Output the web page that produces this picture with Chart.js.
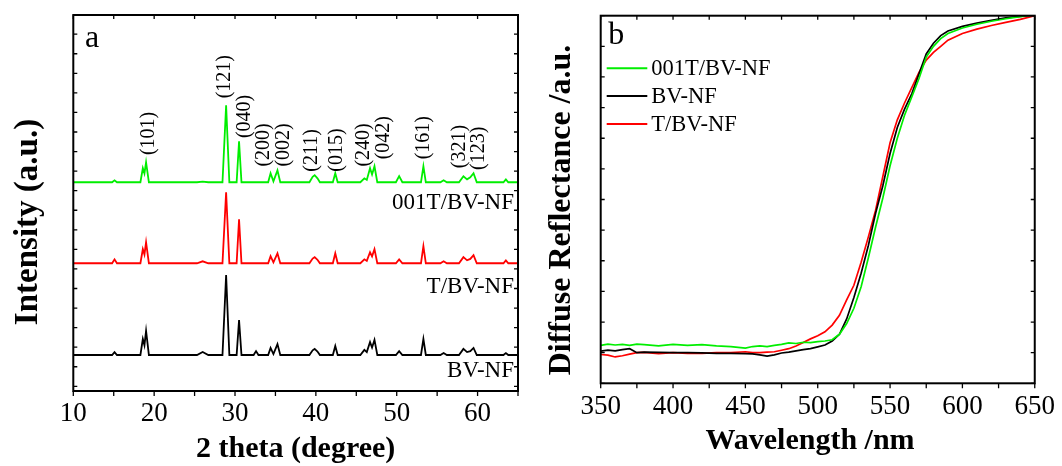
<!DOCTYPE html>
<html>
<head>
<meta charset="utf-8">
<script src="https://cdn.jsdelivr.net/npm/chart.js@4.4.1/dist/chart.umd.min.js"></script>
<style>
  html, body { margin: 0; padding: 0; background: #fff; }
  #wrap { position: relative; width: 1062px; height: 466px; }
  canvas { position: absolute; top: 0; }
  #xrd { left: 0; }
  #drs { left: 531px; }
</style>
</head>
<body>
<div id="wrap">
  <canvas id="xrd" width="531" height="466"></canvas>
  <canvas id="drs" width="531" height="466"></canvas>
</div>
<script>
// ---- panel (a): XRD patterns, intensity above each trace's own baseline ----
const twoTheta = [10, 14.8, 15.1, 15.4, 18.3, 18.6, 18.8, 19.0, 19.35, 25.3, 26.0, 26.7,
  28.45, 28.9, 29.3, 30.2, 30.5, 30.8, 32.3, 32.6, 32.9, 34.1, 34.4, 34.75, 35.25, 35.6,
  39.2, 39.6, 39.85, 40.2, 40.5, 42.1, 42.4, 42.7, 45.5, 46.0, 46.3, 46.7, 46.95, 47.25, 47.6,
  49.9, 50.3, 50.7, 53.0, 53.3, 53.6, 55.4, 55.8, 56.2, 57.7, 58.25, 58.7, 59.1, 59.5, 59.9,
  63.2, 63.5, 63.8, 65];
const xrd001T = [0, 0, 10, 0, 0, 72, 45, 102, 0, 0, 3, 0, 0, 394, 0, 0, 210, 0, 0, 0, 0,
  0, 46, 5, 61, 0, 0, 28, 36, 20, 0, 0, 46, 0, 0, 20, 12, 72, 40, 82, 0, 0, 31, 0, 0, 82, 0,
  0, 10, 0, 0, 31, 15, 25, 46, 0, 0, 15, 0, 0];
const xrdTBV = [0, 0, 20, 0, 0, 72, 45, 107, 0, 0, 10, 0, 0, 363, 0, 0, 225, 0, 0, 0, 0,
  0, 36, 5, 51, 0, 0, 24, 31, 18, 0, 0, 51, 0, 0, 20, 12, 56, 35, 72, 0, 0, 20, 0, 0, 87, 0,
  0, 10, 0, 0, 31, 15, 22, 41, 0, 0, 15, 0, 0];
const xrdBV = [0, 0, 15, 0, 0, 82, 50, 123, 0, 0, 15, 0, 0, 409, 0, 0, 179, 0, 0, 20, 0,
  0, 36, 5, 56, 0, 0, 24, 31, 18, 0, 0, 46, 0, 0, 26, 15, 66, 38, 77, 0, 0, 20, 0, 0, 82, 0,
  0, 10, 0, 0, 31, 15, 20, 36, 0, 0, 10, 0, 0];
const xrdNames = ['001T/BV-NF', 'T/BV-NF', 'BV-NF'];
const xrdOffsets = [1043, 629, 160];
const xrdLabelY = [905, 475, 49];
const hklLabels = ['(101)', '(121)', '(040)', '(200)', '(002)', '(211)', '(015)', '(240)',
  '(042)', '(161)', '(321)', '(123)'];
const hkl2Theta = [19.28, 28.76, 31.24, 33.59, 35.97, 39.49, 42.58, 45.96, 48.34, 53.38, 57.83, 60.09];
const hklY = [1182, 1472, 1269, 1123, 1123, 1097, 1097, 1123, 1160, 1160, 1115, 1106];

// ---- panel (b): diffuse reflectance ----
const wavelength = [350, 355, 360, 365, 370, 375, 380, 390, 400, 410, 420, 430, 440, 450,
  455, 460, 465, 470, 475, 480, 485, 490, 495, 500, 505, 510, 515, 520, 525, 530, 535, 540,
  545, 550, 555, 560, 565, 570, 575, 580, 585, 590, 600, 610, 620, 630, 640, 650];
const drs001T = [1.24, 1.28, 1.25, 1.27, 1.24, 1.28, 1.26, 1.22, 1.27, 1.24, 1.26, 1.22, 1.2,
  1.15, 1.2, 1.22, 1.2, 1.24, 1.27, 1.32, 1.3, 1.34, 1.33, 1.36, 1.38, 1.42, 1.6, 1.95, 2.45,
  3.15, 4.1, 5.1, 6.05, 7.1, 8.0, 8.75, 9.35, 9.95, 10.65, 11.0, 11.25, 11.42, 11.6, 11.72,
  11.82, 11.9, 11.97, 12.03];
const drsBV = [1.05, 1.08, 1.06, 1.1, 1.13, 1.0, 1.02, 1.01, 1.0, 1.0, 0.99, 0.98, 0.98, 0.97,
  0.96, 0.93, 0.89, 0.93, 0.99, 1.02, 1.06, 1.1, 1.13, 1.19, 1.25, 1.38, 1.6, 2.1, 2.8, 3.59,
  4.5, 5.55, 6.45, 7.5, 8.35, 8.95, 9.45, 10.1, 10.75, 11.1, 11.35, 11.5, 11.65, 11.76, 11.85,
  11.93, 11.98, 12.03];
const drsTBV = [0.94, 0.92, 0.86, 0.9, 0.95, 1.0, 1.01, 0.97, 1.0, 0.98, 0.98, 1.0, 1.0, 1.03,
  1.0, 1.0, 1.02, 1.03, 1.08, 1.13, 1.22, 1.33, 1.45, 1.55, 1.68, 1.9, 2.22, 2.72, 3.2, 3.95,
  4.78, 5.65, 6.75, 7.85, 8.6, 9.15, 9.65, 10.15, 10.55, 10.8, 11.0, 11.2, 11.42, 11.56, 11.68,
  11.78, 11.88, 12.0];
const drsNames = ['001T/BV-NF', 'BV-NF', 'T/BV-NF'];

const serif = "'Liberation Serif', 'Times New Roman', Times, serif";
const GREEN = '#00ee00', RED = '#ff0000', BLACK = '#000000';

// box round the plot area + inward / outward tick marks
const frame = {
  id: 'frame',
  afterDatasetsDraw(chart, args, o) {
    const { ctx, chartArea: a } = chart;
    const x = chart.scales.x, y = chart.scales.y;
    ctx.save();
    ctx.strokeStyle = '#000';
    ctx.lineWidth = 1.3;
    ctx.beginPath();
    for (let v = x.min; v <= x.max + 1e-6; v += o.xStep) {
      const px = x.getPixelForValue(v);
      ctx.moveTo(px, a.bottom); ctx.lineTo(px, a.bottom + o.out);
      ctx.moveTo(px, a.top); ctx.lineTo(px, a.top + o.in);
    }
    for (let v = o.yStart; v <= y.max + 1e-6; v += o.yStep) {
      const py = y.getPixelForValue(v);
      ctx.moveTo(a.left, py); ctx.lineTo(a.left + o.in, py);
      ctx.moveTo(a.right, py); ctx.lineTo(a.right - o.in, py);
    }
    ctx.stroke();
    ctx.lineWidth = 2;
    ctx.strokeRect(a.left, a.top, a.right - a.left, a.bottom - a.top);
    ctx.restore();
  }
};

// free text (data coords, or canvas pixels when pixel:true), plus a line legend
const notes = {
  id: 'notes',
  afterDraw(chart, args, o) {
    const { ctx, chartArea: a } = chart;
    const x = chart.scales.x, y = chart.scales.y;
    ctx.save();
    ctx.fillStyle = '#000';
    (o.items || []).forEach(t => {
      ctx.save();
      ctx.font = t.font;
      ctx.textAlign = t.align || 'left';
      ctx.textBaseline = t.baseline || 'alphabetic';
      if (t.pixel) ctx.translate(t.x, t.y);
      else ctx.translate(x.getPixelForValue(t.x), y.getPixelForValue(t.y));
      if (t.rotate) ctx.rotate(-Math.PI / 2);
      ctx.fillText(t.text, 0, 0);
      ctx.restore();
    });
    if (o.legend) {
      const L = o.legend;
      ctx.font = L.font;
      ctx.textBaseline = 'middle';
      chart.data.datasets.forEach((ds, i) => {
        const yy = a.top + L.top + i * L.gap;
        ctx.strokeStyle = ds.borderColor;
        ctx.lineWidth = 2;
        ctx.beginPath();
        ctx.moveTo(a.left + L.left, yy);
        ctx.lineTo(a.left + L.left + L.len, yy);
        ctx.stroke();
        ctx.fillStyle = '#000';
        ctx.fillText(ds.label, a.left + L.left + L.len + 4, yy + 1);
      });
    }
    ctx.restore();
  }
};

// ---------- chart (a) ----------
const xrdSeries = [xrd001T, xrdTBV, xrdBV];
const xrdColors = [GREEN, RED, BLACK];

const xrdNotes = [
  { text: 'a', x: 11.45, y: 1736, font: '32px ' + serif },
  { text: 'Intensity (a.u.)', x: 28, y: 222, pixel: true, rotate: true, align: 'center',
    baseline: 'middle', font: 'bold 33px ' + serif }
];
hklLabels.forEach((lab, i) => {
  xrdNotes.push({ text: lab, x: hkl2Theta[i], y: hklY[i], rotate: true, baseline: 'middle',
    font: '20px ' + serif });
});
xrdNames.forEach((name, i) => {
  xrdNotes.push({ text: name, x: 64.5, y: xrdLabelY[i], align: 'right', font: '23px ' + serif });
});

new Chart(document.getElementById('xrd'), {
  type: 'line',
  data: {
    datasets: xrdNames.map((name, i) => ({
      label: name,
      data: twoTheta.map((t, k) => ({ x: t, y: xrdSeries[i][k] + xrdOffsets[i] })),
      borderColor: xrdColors[i],
      borderWidth: 1.8,
      pointRadius: 0,
      tension: 0
    }))
  },
  options: {
    responsive: false,
    animation: false,
    layout: { padding: { left: 0, right: 13, top: 15, bottom: 0 } },
    plugins: {
      legend: { display: false },
      tooltip: { enabled: false },
      frame: { xStep: 5, yStart: 0, yStep: 100, in: 4, out: 5 },
      notes: { items: xrdNotes }
    },
    scales: {
      x: {
        type: 'linear', min: 10, max: 65,
        afterFit: s => { s.height = 75; },
        grid: { display: false, drawTicks: false },
        border: { display: false },
        ticks: { stepSize: 10, includeBounds: false, padding: 7, color: '#000', maxRotation: 0,
          font: { family: serif, size: 27 } },
        title: { display: true, text: '2 theta (degree)', color: '#000',
          padding: { top: 0, bottom: -1 }, font: { family: serif, size: 30, weight: 'bold' } }
      },
      y: {
        min: -24, max: 1898,
        afterFit: s => { s.width = 73.3; },
        grid: { display: false, drawTicks: false },
        border: { display: false },
        ticks: { display: false }
      }
    }
  },
  plugins: [frame, notes]
});

// ---------- chart (b) ----------
const drsSeries = [drs001T, drsBV, drsTBV];
const drsColors = [GREEN, BLACK, RED];

new Chart(document.getElementById('drs'), {
  type: 'line',
  data: {
    datasets: drsNames.map((name, i) => ({
      label: name,
      data: wavelength.map((w, k) => ({ x: w, y: drsSeries[i][k] })),
      borderColor: drsColors[i],
      borderWidth: 1.7,
      pointRadius: 0,
      tension: 0
    }))
  },
  options: {
    responsive: false,
    animation: false,
    layout: { padding: { left: 0, right: 24, top: 15.7, bottom: 0 } },
    plugins: {
      legend: { display: false },
      tooltip: { enabled: false },
      frame: { xStep: 25, yStart: 0, yStep: 1, in: 4, out: 5 },
      notes: {
        items: [
          { text: 'b', x: 355.2, y: 11.09, font: '32px ' + serif },
          { text: 'Diffuse Reflectance /a.u.', x: 30.7, y: 210, pixel: true, rotate: true,
            align: 'center', baseline: 'middle', font: 'bold 32px ' + serif },
          { text: 'Wavelength /nm', x: 279, y: 441, pixel: true, align: 'center',
            baseline: 'middle', font: 'bold 30px ' + serif }
        ],
        legend: { left: 6, top: 52.6, gap: 27.8, len: 40.6, font: '22.5px ' + serif }
      }
    },
    scales: {
      x: {
        type: 'linear', min: 350, max: 650,
        afterFit: s => { s.height = 82.7; },
        grid: { display: false, drawTicks: false },
        border: { display: false },
        ticks: { stepSize: 50, padding: 7, color: '#000', maxRotation: 0,
          font: { family: serif, size: 27 } }
      },
      y: {
        min: 0, max: 12,
        afterFit: s => { s.width = 69.7; },
        grid: { display: false, drawTicks: false },
        border: { display: false },
        ticks: { display: false }
      }
    }
  },
  plugins: [frame, notes]
});
</script>
</body>
</html>
